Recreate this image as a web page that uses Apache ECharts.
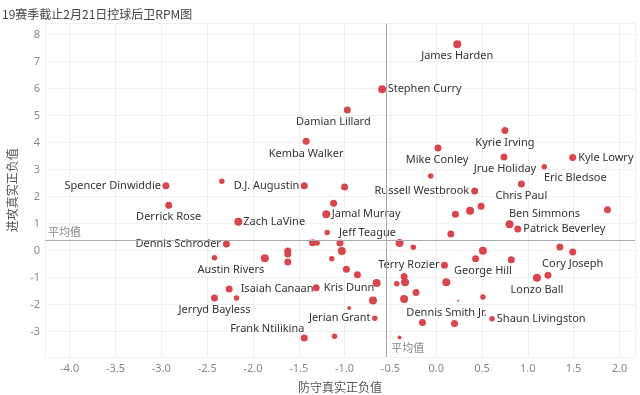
<!DOCTYPE html>
<html><head><meta charset="utf-8">
<script src="https://cdn.jsdelivr.net/npm/echarts@6/dist/echarts.min.js"></script>
<style>html,body{margin:0;padding:0;background:#fff}#c{width:640px;height:395px}</style>
</head><body><div id="c"></div>
<script>
// ---- data ----
const players = ['James Harden','Stephen Curry','Damian Lillard','Kyrie Irving','Mike Conley','Jrue Holiday','Kyle Lowry','Eric Bledsoe','','',
 'Russell Westbrook','Chris Paul','Kemba Walker','Spencer Dinwiddie','','D.J. Augustin','','Jamal Murray','Zach LaVine','Jeff Teague',
 'Dennis Schroder','','','','','','','','Austin Rivers','',
 '','','','Isaiah Canaan','Kris Dunn','Jerryd Bayless','','','','',
 'Jerian Grant','Frank Ntilikina','','','','Terry Rozier','','','','',
 '','','','George Hill','','','','','Dennis Smith Jr.','Shaun Livingston',
 '','Cory Joseph','','Lonzo Ball','','Ben Simmons','Patrick Beverley','','','',
 '','','Derrick Rose',''];
const drpm = [0.23,-0.59,-0.97,0.75,0.02,0.74,1.49,1.18,-0.06,-1.00,
 0.42,0.93,-1.42,-2.95,-2.34,-1.44,-1.12,-1.20,-2.16,-1.19,
 -2.29,-1.35,-1.30,-1.05,-1.62,-1.62,-1.03,-2.42,-1.87,-1.62,
 -1.14,-0.98,-0.86,-2.26,-1.31,-2.42,-2.18,-0.65,-0.69,-0.95,
 -0.67,-1.44,-1.11,-0.40,-0.25,0.09,-0.35,-0.34,-0.43,-0.22,
 -0.35,0.11,0.43,0.51,0.51,0.24,-0.40,-0.15,0.20,0.61,
 0.82,1.49,1.35,1.10,1.22,0.80,0.89,1.87,0.49,0.37,
 0.21,0.16,-2.92,-3.96];
const orpm = [7.64,5.97,5.20,4.44,3.79,3.46,3.44,3.10,2.76,2.35,
 2.20,2.46,4.04,2.40,2.56,2.40,1.75,1.34,1.06,0.66,
 0.24,0.28,0.27,0.27,-0.02,-0.13,-0.02,-0.27,-0.29,-0.43,
 -0.31,-0.70,-0.90,-1.43,-1.38,-1.76,-1.76,-1.21,-1.86,-2.13,
 -2.51,-3.25,-3.18,0.27,0.12,-0.55,-0.97,-1.18,-1.24,-1.56,
 -1.80,-1.18,-0.31,-0.01,-1.73,-1.87,-3.23,-2.67,-2.71,-2.53,
 -0.35,-0.06,0.13,-1.01,-0.92,0.97,0.79,1.51,1.64,1.47,
 1.34,0.61,1.67,0.68];
const sizeMeasure = [5,5,4,4,4,4,4,3,3,4,
 4,4,4,4,3,4,4,5,5,3,
 4,4,3,4,4,4,5,3,5,4,
 3,4,4,4,4,4,3,5,5,2,
 3,4,3,5,3,4,4,5,3,4,
 5,5,4,5,3,1,2,4,4,3,
 4,4,4,5,4,5,4,4,4,5,
 4,4,4,2];
const avgDRPM = -0.535;
const avgORPM = 0.37;
const xTicks = [-4.0,-3.5,-3.0,-2.5,-2.0,-1.5,-1.0,-0.5,0.0,0.5,1.0,1.5,2.0];
const yTicks = [-3,-2,-1,0,1,2,3,4,5,6,7,8];
const titleText = '19赛季截止2月21日控球后卫RPM图';
const xName = '防守真实正负值';
const yName = '进攻真实正负值';
const avgLabel = '平均值';

// ---- styles ----
const symbolByMeasure = {1:2, 2:4, 3:5.5, 4:7, 5:8};
// [position, distance, dx, dy]
const labelPlacement = {
 'James Harden':['bottom',2,0,0],
 'Stephen Curry':['right',1.5,0,0],
 'Damian Lillard':['bottom',3,-14,0],
 'Kyrie Irving':['bottom',3,0,0],
 'Mike Conley':['bottom',3,-1,0],
 'Jrue Holiday':['bottom',3,1,0],
 'Kyle Lowry':['right',2,0,0],
 'Eric Bledsoe':['bottom',3,31,0],
 'Russell Westbrook':['left',2,0,0],
 'Chris Paul':['bottom',3,0,0],
 'Kemba Walker':['bottom',3,0,0],
 'Spencer Dinwiddie':['left',1.5,0,0],
 'D.J. Augustin':['left',1.5,0,0],
 'Derrick Rose':['bottom',3,0,0],
 'Zach LaVine':['right',1,0,0],
 'Jamal Murray':['right',1.5,0,0],
 'Jeff Teague':['right',9,0,0],
 'Dennis Schroder':['left',2,0,0],
 'Austin Rivers':['bottom',2.5,-34,0],
 'Isaiah Canaan':['right',8,0,0],
 'Kris Dunn':['right',4,0,0],
 'Jerryd Bayless':['bottom',2.5,0,0],
 'Frank Ntilikina':['top',0,-37,0],
 'Jerian Grant':['left',1.5,0,0],
 'Terry Rozier':['left',1.5,0,0],
 'George Hill':['bottom',11,0,0],
 'Cory Joseph':['bottom',3,0,0],
 'Lonzo Ball':['bottom',2.5,0,0],
 'Ben Simmons':['top',1,35,0],
 'Patrick Beverley':['right',2,0,0],
 'Dennis Smith Jr.':['top',2,-8,0],
 'Shaun Livingston':['right',2,0,0]
};
const FONT = 'Noto Sans';

const pts = players.map((n,i)=>{
  const o = {name:n, value:[drpm[i],orpm[i]], symbolSize:symbolByMeasure[sizeMeasure[i]]};
  const p = labelPlacement[n];
  if (n && p) {
    o.label = {show:true, position:p[0], distance:p[1], offset:[p[2],p[3]]};
  }
  return o;
});

const chart = echarts.init(document.getElementById('c'), null, {renderer:'canvas'});
const fmt1 = v => xTicks.some(t=>Math.abs(t-v)<1e-6) ? v.toFixed(1) : '';
const fmt0 = v => yTicks.some(t=>Math.abs(t-v)<1e-6) ? String(Math.round(v)) : '';
chart.setOption({
  animation:false,
  backgroundColor:'#ffffff',
  title:{text:titleText, left:-3, top:3, textStyle:{fontSize:12, fontWeight:'normal', color:'#444', fontFamily:'Noto Sans CJK SC'}},
  grid:{left:45, right:5, top:23.7, bottom:38, containLabel:false, outerBoundsMode:'none'},
  xAxis:{type:'value', min:-4.27, max:2.17, minInterval:0.5, maxInterval:0.5, splitNumber:13,
    name:xName, nameLocation:'middle', nameGap:24,
    nameTextStyle:{fontSize:12, color:'#555', fontFamily:'Noto Sans CJK SC'},
    axisLine:{show:false}, axisTick:{show:false},
    axisLabel:{formatter:fmt1, color:'#888', fontSize:11, margin:6, fontFamily:FONT, showMinLabel:false, showMaxLabel:false},
    splitLine:{show:true, lineStyle:{color:'#f0f0f0', width:1}}},
  yAxis:{type:'value', min:-3.95, max:8.4, minInterval:1, maxInterval:1, splitNumber:12,
    name:yName, nameLocation:'middle', nameGap:27,
    nameTextStyle:{fontSize:12, color:'#555', fontFamily:'Noto Sans CJK SC'},
    axisLine:{show:false}, axisTick:{show:false},
    axisLabel:{formatter:fmt0, color:'#888', fontSize:11, margin:5, fontFamily:FONT, showMinLabel:false, showMaxLabel:false},
    splitLine:{show:true, lineStyle:{color:'#f0f0f0', width:1}}},
  series:[{
    type:'scatter', data:pts,
    itemStyle:{color:'#d9454c', opacity:1},
    label:{show:false, formatter:'{b}', color:'#333', fontSize:11, fontFamily:FONT},
    markLine:{silent:true, symbol:'none', label:{show:false},
      lineStyle:{color:'#aaaaaa', width:1, type:'solid'},
      data:[{xAxis:avgDRPM},{yAxis:avgORPM}]},
    z:3
  }]
});
const pH = chart.convertToPixel({gridIndex:0}, [-4.27, avgORPM]);
const pV = chart.convertToPixel({gridIndex:0}, [avgDRPM, -3.95]);
const avgStyle = {text:avgLabel, fontSize:11, fill:'#888', fontFamily:'Noto Sans CJK SC', stroke:'rgba(255,255,255,0.75)', lineWidth:2};
chart.setOption({graphic:[
  {type:'text', left:pH[0]+2, top:pH[1]-15, style:avgStyle, z:10},
  {type:'text', left:pV[0]+3, top:pV[1]-16, style:avgStyle, z:10}
]});
</script></body></html>
